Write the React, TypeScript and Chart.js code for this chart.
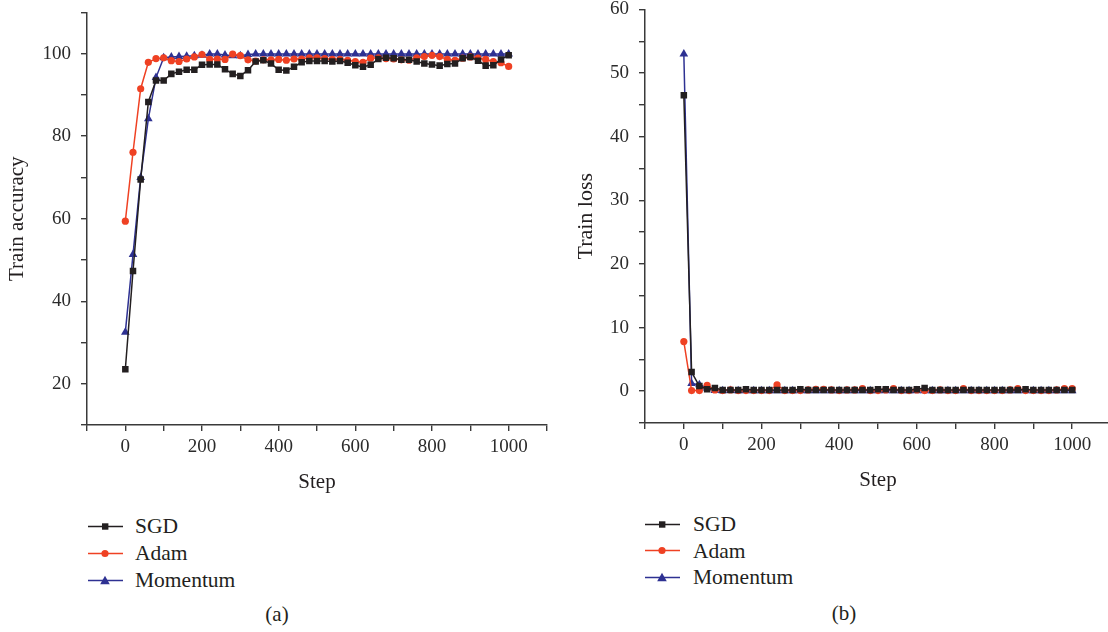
import React, { useEffect, useRef } from "react";
import { Chart, registerables } from "chart.js";

Chart.register(...registerables);

const steps = [0, 20, 40, 60, 80, 100, 120, 140, 160, 180, 200, 220, 240, 260, 280, 300, 320, 340, 360, 380, 400, 420, 440, 460, 480, 500, 520, 540, 560, 580, 600, 620, 640, 660, 680, 700, 720, 740, 760, 780, 800, 820, 840, 860, 880, 900, 920, 940, 960, 980, 1000];

const seriesNames = ["SGD", "Adam", "Momentum"];

const sgdAcc = [23.5, 47.3, 69.5, 88.3, 93.5, 93.5, 95.1, 95.6, 96.1, 96.1, 97.3, 97.4, 97.4, 96.2, 95.1, 94.6, 96.0, 98.1, 98.4, 97.6, 96.1, 95.9, 96.8, 97.9, 98.2, 98.2, 98.2, 98.1, 98.2, 97.8, 97.2, 96.8, 97.3, 98.7, 99.0, 98.9, 98.5, 98.5, 98.1, 97.6, 97.4, 97.1, 97.5, 97.6, 98.9, 99.2, 98.3, 97.1, 97.2, 98.6, 99.6];
const adamAcc = [59.4, 76.1, 91.5, 97.9, 98.8, 99.0, 98.3, 98.1, 98.7, 99.2, 99.8, 98.6, 98.7, 98.6, 99.9, 99.5, 98.5, 98.2, 98.5, 98.5, 98.6, 98.4, 98.7, 98.7, 99.0, 99.0, 98.8, 98.6, 98.6, 98.4, 98.1, 97.9, 98.9, 99.0, 98.8, 98.7, 98.5, 98.4, 99.0, 99.3, 99.6, 99.3, 98.6, 98.4, 98.9, 99.2, 98.9, 98.6, 98.1, 97.8, 96.9];
const momentumAcc = [32.5, 51.3, 70.0, 84.2, 94.2, 99.0, 99.2, 99.3, 99.4, 99.5, 99.6, 99.9, 99.9, 99.7, 99.5, 99.5, 99.8, 99.9, 99.9, 99.9, 99.9, 99.9, 99.9, 99.9, 99.9, 99.9, 99.9, 99.9, 99.9, 99.9, 99.9, 99.9, 99.9, 99.9, 99.9, 99.9, 99.9, 99.9, 99.9, 99.9, 99.9, 99.9, 99.9, 99.9, 99.9, 99.9, 99.9, 99.9, 99.9, 99.9, 99.9];

const sgdLoss = [46.5, 3.0, 0.8, 0.3, 0.5, 0.2, 0.2, 0.2, 0.3, 0.2, 0.2, 0.2, 0.2, 0.2, 0.2, 0.3, 0.2, 0.2, 0.2, 0.2, 0.2, 0.2, 0.2, 0.2, 0.2, 0.3, 0.3, 0.2, 0.2, 0.2, 0.3, 0.5, 0.2, 0.2, 0.2, 0.2, 0.2, 0.2, 0.2, 0.2, 0.2, 0.2, 0.2, 0.2, 0.3, 0.2, 0.2, 0.2, 0.2, 0.2, 0.2];
const adamLoss = [7.8, 0.1, 0.1, 0.9, 0.2, 0.1, 0.2, 0.1, 0.1, 0.1, 0.1, 0.1, 1.0, 0.1, 0.1, 0.1, 0.2, 0.3, 0.3, 0.2, 0.1, 0.2, 0.2, 0.4, 0.1, 0.1, 0.2, 0.4, 0.1, 0.1, 0.2, 0.1, 0.1, 0.2, 0.1, 0.1, 0.4, 0.1, 0.1, 0.1, 0.1, 0.1, 0.2, 0.4, 0.1, 0.1, 0.1, 0.1, 0.2, 0.4, 0.4];
const momentumLoss = [53.0, 1.2, 1.0, 0.5, 0.1, 0.05, 0.1, 0.05, 0.05, 0.05, 0.05, 0.05, 0.05, 0.05, 0.05, 0.05, 0.05, 0.05, 0.05, 0.05, 0.05, 0.05, 0.05, 0.05, 0.05, 0.05, 0.05, 0.05, 0.05, 0.05, 0.05, 0.05, 0.05, 0.05, 0.05, 0.05, 0.05, 0.05, 0.05, 0.05, 0.05, 0.05, 0.05, 0.05, 0.05, 0.05, 0.05, 0.05, 0.05, 0.05, 0.05];

const accTickLabels = [20, 40, 60, 80, 100];
const lossTickLabels = [0, 10, 20, 30, 40, 50, 60];
const stepTickLabels = [0, 200, 400, 600, 800, 1000];

const COLORS = ["#231f20", "#ef4123", "#2e3192"];
const POINT_STYLES = ["rect", "circle", "triangle"];
const POINT_RADII = [4.6, 3.6, 5];
const FONT = "'Liberation Serif', 'Times New Roman', serif";
const AXIS = "#3a3a3a";

type PanelCfg = {
  width: number;
  height: number;
  top: number;
  values: number[][];
  yMin: number;
  yMax: number;
  yStep: number;
  yLabels: number[];
  yTitle: string;
  yTitleSize: number;
  yWidth: number;
  xHeight: number;
  padTop: number;
  padRight: number;
  yTitlePad: number;
  xTitlePad: number;
};

function makeConfig(p: PanelCfg): any {
  return {
    type: "line",
    data: {
      labels: steps,
      datasets: p.values.map((vals, i) => ({
        label: seriesNames[i],
        data: steps.map((s, j) => ({ x: s, y: vals[j] })),
        borderColor: COLORS[i],
        backgroundColor: COLORS[i],
        borderWidth: 1.5,
        pointStyle: POINT_STYLES[i],
        pointRadius: POINT_RADII[i],
        pointBorderWidth: 0,
        tension: 0,
        fill: false,
      })),
    },
    options: {
      responsive: false,
      animation: false,
      layout: { autoPadding: false, padding: { top: p.padTop, right: p.padRight, left: 0, bottom: 0 } },
      plugins: { legend: { display: false }, tooltip: { enabled: false } },
      scales: {
        x: {
          type: "linear",
          min: -100,
          max: 1100,
          afterFit: (s: any) => { s.height = p.xHeight; },
          afterBuildTicks: (s: any) => {
            const t: any[] = [];
            for (let v = -100; v <= 1100; v += 100) t.push({ value: v });
            s.ticks = t;
          },
          ticks: {
            autoSkip: false,
            maxRotation: 0,
            padding: 5,
            color: "#2b2b2b",
            font: { family: FONT, size: 19 },
            callback: (v: number) => (stepTickLabels.includes(v) ? String(v) : ""),
          },
          grid: { drawOnChartArea: false, drawTicks: true, tickLength: 6, color: AXIS, lineWidth: 1.4 },
          border: { display: true, color: AXIS, width: 1.5 },
          title: { display: true, text: "Step", color: "#231f20", font: { family: FONT, size: 21 }, padding: { top: 0, bottom: p.xTitlePad } },
        },
        y: {
          type: "linear",
          min: p.yMin,
          max: p.yMax,
          afterFit: (s: any) => { s.width = p.yWidth; },
          afterBuildTicks: (s: any) => {
            const t: any[] = [];
            for (let v = p.yMin; v <= p.yMax + 1e-9; v += p.yStep) t.push({ value: v });
            s.ticks = t;
          },
          ticks: {
            autoSkip: false,
            padding: 10,
            color: "#2b2b2b",
            font: { family: FONT, size: 19 },
            callback: (v: number) => (p.yLabels.includes(v) ? String(v) : ""),
          },
          grid: { drawOnChartArea: false, drawTicks: true, tickLength: 6, color: AXIS, lineWidth: 1.4 },
          border: { display: true, color: AXIS, width: 1.5 },
          title: { display: true, text: p.yTitle, color: "#231f20", font: { family: FONT, size: p.yTitleSize }, padding: { top: p.yTitlePad, bottom: 0 } },
        },
      },
    },
  };
}

function Panel({ cfg, left }: { cfg: PanelCfg; left: number }) {
  const ref = useRef<HTMLCanvasElement>(null);
  useEffect(() => {
    if (!ref.current) return;
    const chart = new Chart(ref.current, makeConfig(cfg));
    return () => chart.destroy();
  }, []);
  return (
    <canvas
      ref={ref}
      width={cfg.width}
      height={cfg.height}
      style={{ position: "absolute", left, top: cfg.top, width: cfg.width, height: cfg.height }}
    />
  );
}

function Marker({ i }: { i: number }) {
  const c = COLORS[i];
  let m: any = null;
  if (i === 0) m = <rect x={14} y={3.3} width={6.4} height={6.4} fill={c} />;
  else if (i === 1) m = <circle cx={17} cy={6.5} r={3.6} fill={c} />;
  else m = <polygon points="17,1.8 21.8,10.3 12.2,10.3" fill={c} />;
  return (
    <svg width={35} height={13} style={{ display: "block" }}>
      <line x1={0} y1={6.5} x2={35} y2={6.5} stroke={c} strokeWidth={1.5} />
      {m}
    </svg>
  );
}

function Legend({ left, top, textLeft, rowGap }: { left: number; top: number; textLeft: number; rowGap: number }) {
  return (
    <div style={{ position: "absolute", left, top }}>
      {seriesNames.map((n, i) => (
        <div key={n} style={{ position: "absolute", left: 0, top: i * rowGap, height: 26, width: 200 }}>
          <div style={{ position: "absolute", left: 0, top: 6.5 }}>
            <Marker i={i} />
          </div>
          <div
            style={{
              position: "absolute",
              left: textLeft,
              top: 0,
              lineHeight: "26px",
              fontFamily: FONT,
              fontSize: 21.5,
              color: "#231f20",
              whiteSpace: "nowrap",
            }}
          >
            {n}
          </div>
        </div>
      ))}
    </div>
  );
}

const leftCfg: PanelCfg = {
  width: 560,
  height: 509,
  top: -9,
  values: [sgdAcc, adamAcc, momentumAcc],
  yMin: 10,
  yMax: 110,
  yStep: 10,
  yLabels: accTickLabels,
  yTitle: "Train accuracy",
  yTitleSize: 21,
  yWidth: 87,
  xHeight: 75,
  padTop: 12,
  padRight: 13,
  yTitlePad: 5,
  xTitlePad: 5,
};

const rightCfg: PanelCfg = {
  width: 556,
  height: 512,
  top: -12,
  values: [sgdLoss, adamLoss, momentumLoss],
  yMin: -5,
  yMax: 60,
  yStep: 5,
  yLabels: lossTickLabels,
  yTitle: "Train loss",
  yTitleSize: 22,
  yWidth: 85,
  xHeight: 77,
  padTop: 8,
  padRight: 0,
  yTitlePad: 13,
  xTitlePad: 7,
};

export default function App() {
  return (
    <div style={{ position: "absolute", left: 0, top: 0, width: 1108, height: 632, background: "#fff", overflow: "hidden" }}>
      <Panel cfg={leftCfg} left={0} />
      <Panel cfg={rightCfg} left={560} />
      <Legend left={88} top={513} textLeft={47} rowGap={27} />
      <Legend left={645} top={511} textLeft={48} rowGap={26.7} />
      <div style={{ position: "absolute", left: 262, top: 601, width: 30, textAlign: "center", fontFamily: FONT, fontSize: 21, lineHeight: "26px", color: "#231f20" }}>(a)</div>
      <div style={{ position: "absolute", left: 829, top: 600, width: 30, textAlign: "center", fontFamily: FONT, fontSize: 21, lineHeight: "26px", color: "#231f20" }}>(b)</div>
    </div>
  );
}
